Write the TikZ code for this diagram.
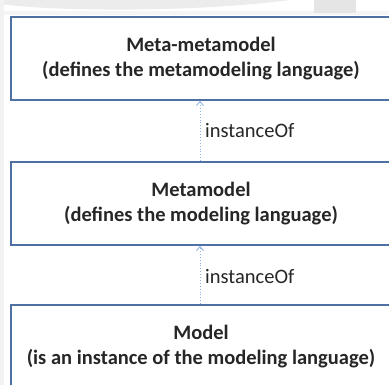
\documentclass[tikz,border=0pt]{standalone}
\usepackage{fontspec}
\setmainfont{Carlito}
\usetikzlibrary{arrows.meta}
\definecolor{boxline}{RGB}{79,112,163}
\definecolor{linkline}{RGB}{141,179,226}
\definecolor{slidegray}{RGB}{236,236,236}
\begin{document}
\begin{tikzpicture}[x=1pt,y=-1pt,
  layer/.style={draw=boxline, line width=1.8pt, fill=white, inner sep=0pt,
    minimum width=380pt, minimum height=83pt, align=center,
    font=\fontsize{20.5}{25.5}\selectfont\bfseries, text=black!85},
  link/.style={draw=linkline, line width=0.9pt, dotted,
    -{Straight Barb[length=4pt,width=7pt,line width=0.9pt]}},
  linklabel/.style={font=\fontsize{20.5}{24}\selectfont, text=black!85, inner sep=0pt, anchor=west}]
\useasboundingbox (0,0) rectangle (389,385);
% slide background
\fill[white] (0,0) rectangle (389,385);
\fill[slidegray] (0,0) -- (0,4) .. controls (60,12) and (200,12) .. (290,0) -- cycle;
\fill[black!4] (0,11) rectangle (389,15);
\fill[black!5] (0,0) rectangle (4,385);
\fill[black!10] (314,0) rectangle (356,13);
% the three modelling layers
\node[layer] (mmm) at (201,58.5) {Meta-metamodel\\(defines the metamodeling language)};
\node[layer] (mm) at (201,203.5) {Metamodel\\(defines the modeling language)};
\node[layer] (m) at (201,346.5) {Model\\(is an instance of the modeling language)};
% instanceOf relations
\draw[link] (mm.north -| 200,0) -- (mmm.south -| 200,0);
\draw[link] (m.north -| 200,0) -- (mm.south -| 200,0);
\node[linklabel] (l1) at (205,131) {instanceOf};
\node[linklabel] (l2) at (205,277) {instanceOf};
\end{tikzpicture}
\end{document}
